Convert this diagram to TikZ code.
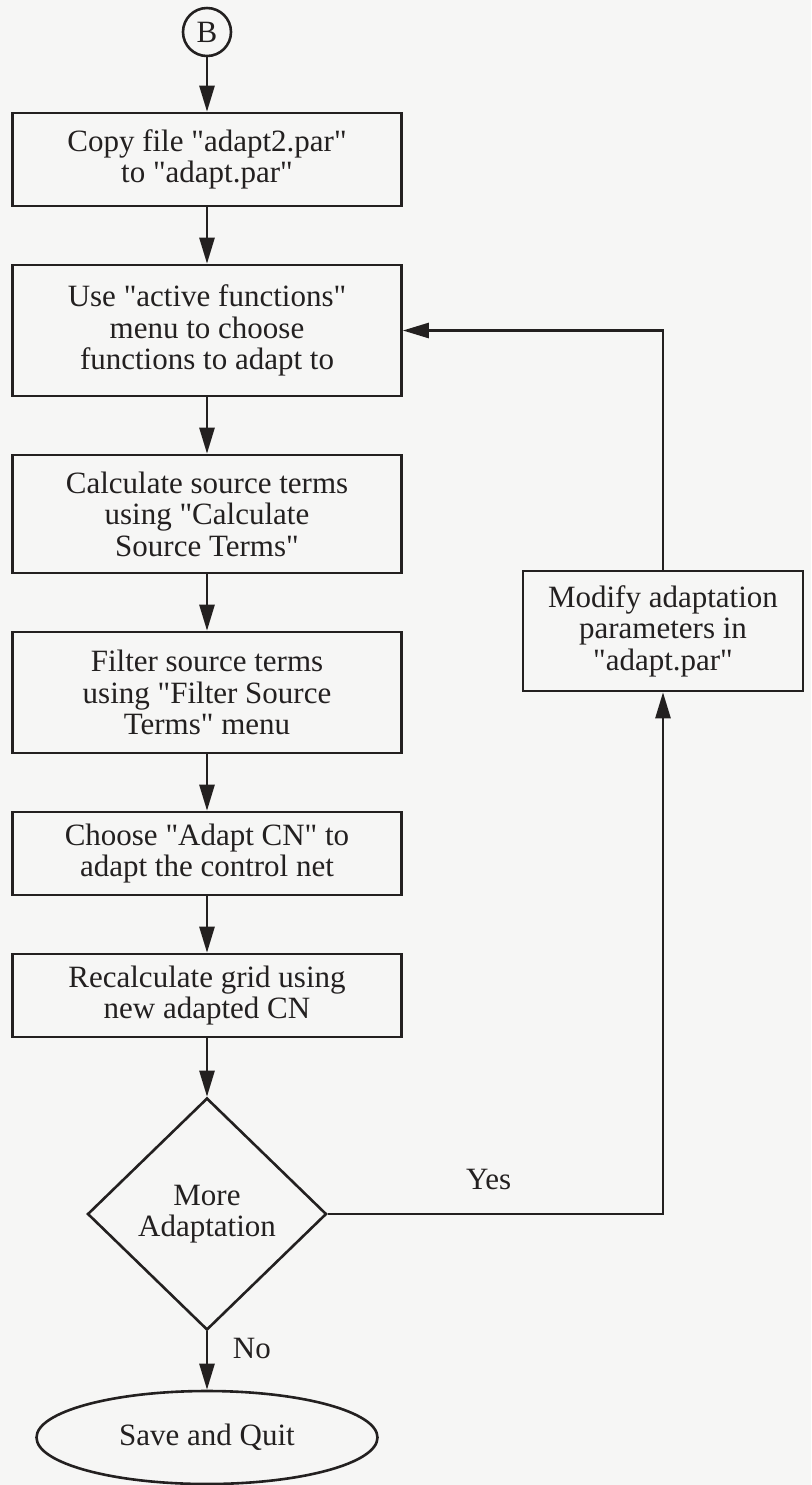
\documentclass[tikz,border=0pt]{standalone}
\usepackage{fontspec}
\setmainfont{Liberation Serif}[Ligatures=TeXOff]
\usetikzlibrary{shapes.geometric,arrows.meta,positioning}
\definecolor{paper}{RGB}{246,246,245}
\definecolor{ink}{RGB}{35,32,32}

\begin{document}
\begin{tikzpicture}[x=0.5pt, y=-0.5pt,
    every node/.style={font=\fontsize{15.5}{15.8}\selectfont, text=ink},
    stepbox/.style={draw=ink, line width=1.3pt, rectangle, minimum width=194.5pt, align=center, inner sep=3pt},
    decide/.style={draw=ink, line width=1.3pt, diamond, minimum width=119.5pt, minimum height=116pt, inner sep=0pt, align=center},
    endnode/.style={draw=ink, line width=1.3pt, ellipse, minimum width=170.5pt, minimum height=46.5pt},
    flow/.style={draw=ink, line width=1.3pt, -{Triangle[length=13pt,width=7.5pt]}}]
    % Paper and page size
    \fill[paper] (0,0) rectangle (811,1485);
    \useasboundingbox (0,0) rectangle (811,1485);

    % Connector
    \node[circle, draw=ink, line width=1.3pt, minimum size=24pt, inner sep=0pt] (b) at (207,32) {B};

    % Main column
    \node[stepbox, minimum height=46.5pt] (copy) at (207,159.5) {Copy file "adapt2.par"\\to "adapt.par"};
    \node[stepbox, minimum height=65.5pt] (funcs) at (207,330.5) {Use "active functions"\\menu to choose\\functions to adapt to};
    \node[stepbox, minimum height=59pt] (calc) at (207,514) {Calculate source terms\\using "Calculate\\Source Terms"};
    \node[stepbox, minimum height=60.5pt] (filt) at (207,692.5) {Filter source terms\\using "Filter Source\\Terms" menu};
    \node[stepbox, minimum height=41.5pt] (adcn) at (207,853.5) {Choose "Adapt CN" to\\adapt the control net};
    \node[stepbox, minimum height=41.5pt] (regrid) at (207,995.5) {Recalculate grid using\\new adapted CN};
    \node[decide] (more) at (207,1214) {More\\Adaptation};
    \node[endnode] (quit) at (207,1437.5) {Save and Quit};

    % Side box
    \node[stepbox, minimum width=140pt, minimum height=60pt] (mod) at (663,631) {Modify adaptation\\parameters in\\"adapt.par"};

    % Arrows down the column
    \foreach \a/\b in {b/copy, copy/funcs, funcs/calc, calc/filt, filt/adcn, adcn/regrid, regrid/more}
        \draw[flow] (\a) -- (\b);
    \draw[flow] (more) -- node[pos=0.3, right=9pt] {No} (quit);

    % Loop back
    \draw[flow] (more.east) -| node[pos=0.24, above=8pt] {Yes} (mod.south);
    \draw[flow] (mod.north) |- (funcs.east);
\end{tikzpicture}
\end{document}
